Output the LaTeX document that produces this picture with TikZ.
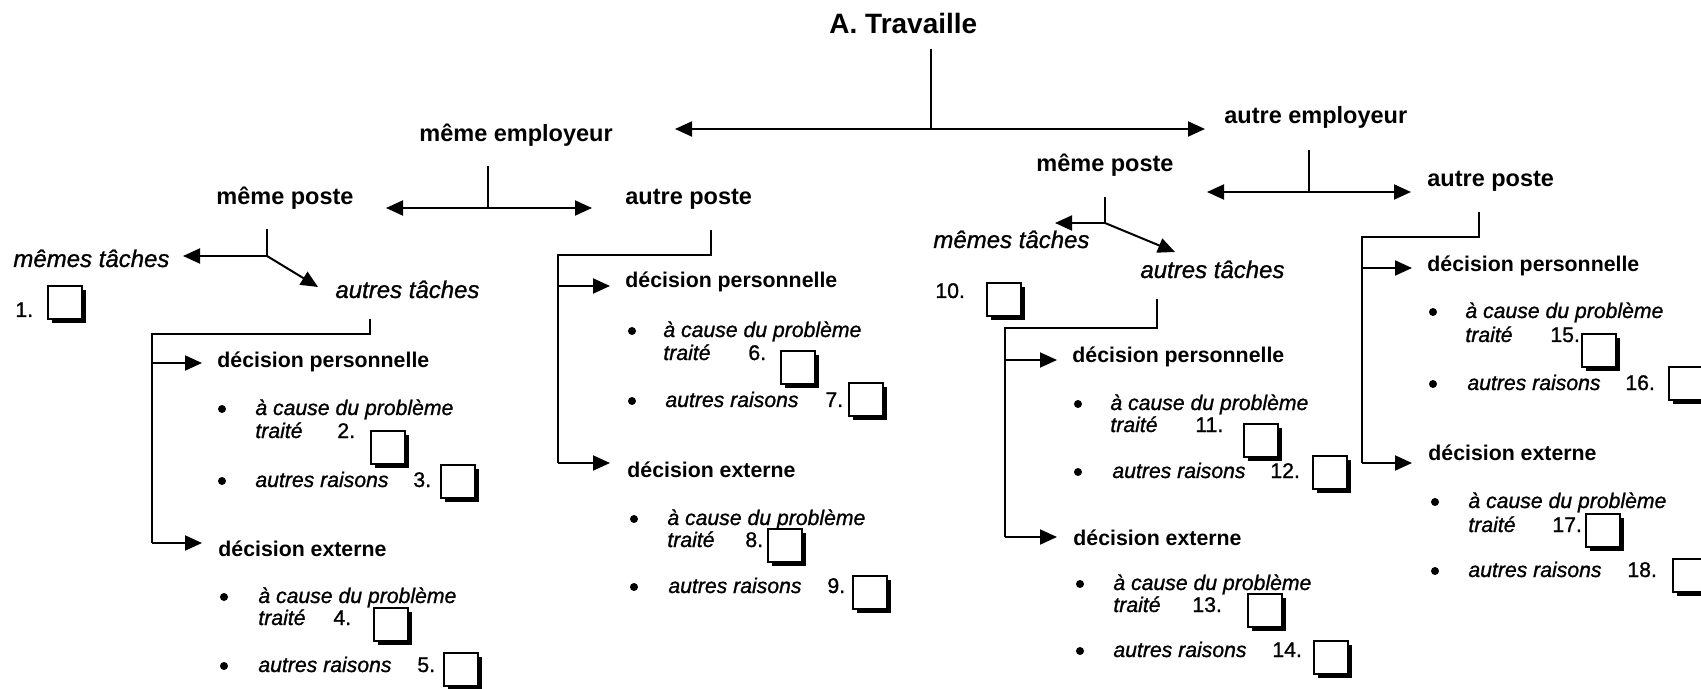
\documentclass[tikz,border=0pt]{standalone}
\usepackage{fontspec}
\setmainfont{Liberation Sans}
% slightly heavier face for the italic items and the numbers
\newfontfamily\medfont{Liberation Sans}[FakeBold=1.1]
\usetikzlibrary{arrows.meta,shadows,calc}

\tikzset{
  title/.style={anchor=base west, inner sep=0pt, font=\fontsize{14}{16}\selectfont\bfseries},
  lbl/.style={anchor=base west, inner sep=0pt, font=\fontsize{11.75}{14}\selectfont\bfseries},
  dec/.style={anchor=base west, inner sep=0pt, font=\fontsize{10.65}{13}\selectfont\bfseries},
  task/.style={anchor=base west, inner sep=0pt, font=\fontsize{12}{14}\selectfont\medfont\itshape},
  itm/.style={anchor=base west, inner sep=0pt, font=\fontsize{10.6}{13}\selectfont\medfont\itshape},
  num/.style={anchor=base west, inner sep=0pt, font=\fontsize{10.6}{13}\selectfont\medfont},
  dot/.style={circle, fill=black, inner sep=0pt, minimum size=4pt},
  chk/.style={anchor=north west, draw, line width=0.9pt, fill=white,
    minimum width=17pt, minimum height=16.5pt, inner sep=0pt,
    general shadow={fill=black, shadow xshift=2pt, shadow yshift=-2pt}},
  link/.style={line width=1pt},
  arr/.style={line width=1pt, -{Triangle[length=8.5pt,width=7.5pt]}},
  darr/.style={line width=1pt, {Triangle[length=8.5pt,width=7.5pt]}-{Triangle[length=8.5pt,width=7.5pt]}},
}

\begin{document}
\begin{tikzpicture}[x=0.5pt,y=-0.5pt]
\useasboundingbox (0,0) rectangle (1701,689);

% ---------- root ----------
\node[title] (trav) at (829,34) {A. Travaille};
\node[lbl] (memp) at (419,142) {même employeur};
\node[lbl] (aemp) at (1224,124) {autre employeur};
\coordinate (j0) at (931,129);
\coordinate (j0l) at (675,129);
\coordinate (j0r) at (1205,129);
\draw[link] ($(trav.south -| j0)+(0,14)$) -- (j0);
\draw[darr] (j0l) -- (j0r);

% ---------- même employeur ----------
\node[lbl] (mpL) at (216,205) {même poste};
\node[lbl] (apM) at (625,205) {autre poste};
\coordinate (j1) at (488,208);
\coordinate (j1l) at (386,208);
\coordinate (j1r) at (592,208);
\draw[link] ($(memp.south -| j1)+(0,19)$) -- (j1);
\draw[darr] (j1l) -- (j1r);

% même poste -> tâches
\node[task] (mtL) at (13,267) {mêmes tâches};
\node[task] (atL) at (335,298) {autres tâches};
\coordinate (j2) at (267,256);
\coordinate (j2l) at (183,256);
\coordinate (j2d) at (318,287);
\draw[link] ($(mpL.south -| j2)+(0,19)$) -- (j2);
\draw[arr] (j2) -- (j2l);
\draw[arr] (j2) -- (j2d);
\node[num] (n1) at (15,317) {1.};
\node[chk] (b1) at (47,285) {};

% autres tâches -> décisions
\node[dec] (dpL) at (217,368) {décision personnelle};
\node[dec] (deL) at (218,556) {décision externe};
\coordinate (k1) at (370,334);
\coordinate (k1t) at (152,334);
\coordinate (k1a) at (152,363);
\coordinate (k1b) at (152,543);
\draw[link] ($(atL.south -| k1)+(0,20)$) -- (k1) -- (k1t) -- (k1b);
\draw[arr] (k1a) -- (202,363) coordinate (k1ae);
\draw[arr] (k1b) -- (202,543) coordinate (k1be);

\node[dot] (d2) at (222,409) {};
\node[itm] (i2) at (255,415) {à cause du problème};
\node[itm] (i2b) at (255,438) {traité};
\node[num] (n2) at (337,438) {2.};
\node[chk] (b2) at (370,430) {};
\node[dot] (d3) at (222,481) {};
\node[itm] (i3) at (255,487) {autres raisons};
\node[num] (n3) at (413,487) {3.};
\node[chk] (b3) at (440,464) {};

\node[dot] (d4) at (224,597) {};
\node[itm] (i4) at (258,603) {à cause du problème};
\node[itm] (i4b) at (258,625) {traité};
\node[num] (n4) at (333,625) {4.};
\node[chk] (b4) at (373,607) {};
\node[dot] (d5) at (224,666) {};
\node[itm] (i5) at (258,672) {autres raisons};
\node[num] (n5) at (417,672) {5.};
\node[chk] (b5) at (443,652) {};

% autre poste (même employeur) -> décisions
\node[dec] (dpM) at (625,288) {décision personnelle};
\node[dec] (deM) at (627,477) {décision externe};
\coordinate (k2) at (711,255);
\coordinate (k2t) at (558,255);
\coordinate (k2a) at (558,286);
\coordinate (k2b) at (558,463);
\draw[link] ($(apM.south -| k2)+(0,20)$) -- (k2) -- (k2t) -- (k2b);
\draw[arr] (k2a) -- (610,286) coordinate (k2ae);
\draw[arr] (k2b) -- (610,463) coordinate (k2be);

\node[dot] (d6) at (632,331) {};
\node[itm] (i6) at (663,337) {à cause du problème};
\node[itm] (i6b) at (663,360) {traité};
\node[num] (n6) at (748,360) {6.};
\node[chk] (b6) at (780,350) {};
\node[dot] (d7) at (632,401) {};
\node[itm] (i7) at (665,407) {autres raisons};
\node[num] (n7) at (825,407) {7.};
\node[chk] (b7) at (848,382) {};

\node[dot] (d8) at (634,519) {};
\node[itm] (i8) at (667,525) {à cause du problème};
\node[itm] (i8b) at (667,547) {traité};
\node[num] (n8) at (745,547) {8.};
\node[chk] (b8) at (767,528) {};
\node[dot] (d9) at (634,587) {};
\node[itm] (i9) at (668,593) {autres raisons};
\node[num] (n9) at (827,593) {9.};
\node[chk] (b9) at (852,575) {};

% ---------- autre employeur ----------
\node[lbl] (mpR) at (1036,172) {même poste};
\node[lbl] (apR) at (1427,187) {autre poste};
\coordinate (j3) at (1309,192);
\coordinate (j3l) at (1207,192);
\coordinate (j3r) at (1411,192);
\draw[link] ($(aemp.south -| j3)+(0,21)$) -- (j3);
\draw[darr] (j3l) -- (j3r);

% même poste -> tâches
\node[task] (mtR) at (933,248) {mêmes tâches};
\node[task] (atR) at (1140,278) {autres tâches};
\coordinate (j4) at (1105,223);
\coordinate (j4l) at (1055,223);
\coordinate (j4d) at (1175,252);
\draw[link] ($(mpR.south -| j4)+(0,20)$) -- (j4);
\draw[arr] (j4) -- (j4l);
\draw[arr] (j4) -- (j4d);
\node[num] (n10) at (935,298) {10.};
\node[chk] (b10) at (986,282) {};

% autres tâches -> décisions
\node[dec] (dpR) at (1072,363) {décision personnelle};
\node[dec] (deR) at (1073,545) {décision externe};
\coordinate (k3) at (1157,328);
\coordinate (k3t) at (1005,328);
\coordinate (k3a) at (1005,360);
\coordinate (k3b) at (1005,537);
\draw[link] ($(atR.south -| k3)+(0,20)$) -- (k3) -- (k3t) -- (k3b);
\draw[arr] (k3a) -- (1057,360) coordinate (k3ae);
\draw[arr] (k3b) -- (1057,537) coordinate (k3be);

\node[dot] (d11) at (1078,404) {};
\node[itm] (i11) at (1110,410) {à cause du problème};
\node[itm] (i11b) at (1110,432) {traité};
\node[num] (n11) at (1195,432) {11.};
\node[chk] (b11) at (1243,423) {};
\node[dot] (d12) at (1078,472) {};
\node[itm] (i12) at (1112,478) {autres raisons};
\node[num] (n12) at (1270,478) {12.};
\node[chk] (b12) at (1312,455) {};

\node[dot] (d13) at (1080,584) {};
\node[itm] (i13) at (1113,590) {à cause du problème};
\node[itm] (i13b) at (1113,612) {traité};
\node[num] (n13) at (1192,612) {13.};
\node[chk] (b13) at (1247,593) {};
\node[dot] (d14) at (1080,651) {};
\node[itm] (i14) at (1113,657) {autres raisons};
\node[num] (n14) at (1272,657) {14.};
\node[chk] (b14) at (1313,640) {};

% autre poste (autre employeur) -> décisions
\node[dec] (dpRR) at (1427,272) {décision personnelle};
\node[dec] (deRR) at (1428,460) {décision externe};
\coordinate (k4) at (1479,237);
\coordinate (k4t) at (1362,237);
\coordinate (k4a) at (1362,268);
\coordinate (k4b) at (1362,463);
\draw[link] ($(apR.south -| k4)+(0,20)$) -- (k4) -- (k4t) -- (k4b);
\draw[arr] (k4a) -- (1412,268) coordinate (k4ae);
\draw[arr] (k4b) -- (1412,463) coordinate (k4be);

\node[dot] (d15) at (1433,312) {};
\node[itm] (i15) at (1465,318) {à cause du problème};
\node[itm] (i15b) at (1465,342) {traité};
\node[num] (n15) at (1550,342) {15.};
\node[chk] (b15) at (1581,333) {};
\node[dot] (d16) at (1433,384) {};
\node[itm] (i16) at (1467,390) {autres raisons};
\node[num] (n16) at (1625,390) {16.};
\node[chk] (b16) at (1668,366) {};

\node[dot] (d17) at (1435,502) {};
\node[itm] (i17) at (1468,508) {à cause du problème};
\node[itm] (i17b) at (1468,532) {traité};
\node[num] (n17) at (1552,532) {17.};
\node[chk] (b17) at (1585,513) {};
\node[dot] (d18) at (1435,571) {};
\node[itm] (i18) at (1468,577) {autres raisons};
\node[num] (n18) at (1627,577) {18.};
\node[chk] (b18) at (1672,558) {};
\end{tikzpicture}
\end{document}
